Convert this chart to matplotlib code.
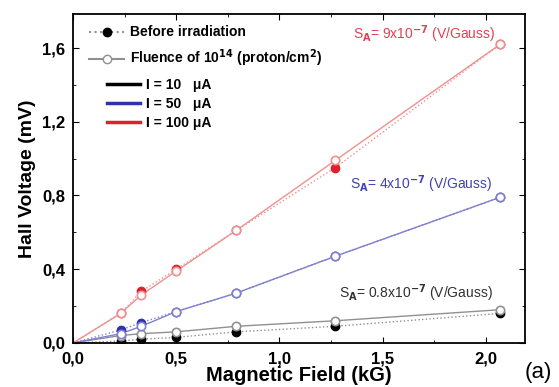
import numpy as np
import matplotlib.pyplot as plt
from matplotlib.lines import Line2D
import matplotlib.ticker as ticker

field = [0.23, 0.33, 0.50, 0.79, 1.27, 2.07]

# fluence of 1e14 (open symbols)
after_10 = [0.04, 0.05, 0.06, 0.09, 0.12, 0.18]
after_50 = [0.05, 0.09, 0.17, 0.27, 0.47, 0.79]
after_100 = [0.16, 0.26, 0.39, 0.61, 0.99, 1.62]

# before irradiation (filled symbols)
before_10 = [0.01, 0.02, 0.03, 0.06, 0.09, 0.16]
before_50 = [0.07, 0.11, 0.17, 0.27, 0.47, 0.79]
before_100 = [0.16, 0.28, 0.40, 0.61, 0.95, 1.62]

plt.rcParams['font.family'] = ['Liberation Sans', 'DejaVu Sans']
plt.rcParams['font.weight'] = 'bold'

fig, ax1 = plt.subplots(1, 1, figsize=(5.59, 3.87), dpi=100)
fig.subplots_adjust(left=0.131, right=0.939, top=0.964, bottom=0.114)

x0 = np.concatenate([[0], field])
sets = [('black', '#909090', before_10, after_10),
        ('#3030b0', '#8080d0', before_50, after_50),
        ('#e02030', '#f09090', before_100, after_100)]

for col, lcol, bef, aft in sets:
    ax1.plot(x0, np.concatenate([[0], bef]), ls=':', color=lcol, lw=1.0, zorder=1)
    ax1.plot(x0, np.concatenate([[0], aft]), ls='-', color=lcol, lw=1.0, zorder=1)
    ax1.plot(field, bef, 'o', color=col, ms=6, zorder=3)
    ax1.plot(field, aft, 'o', mfc='white', mec=lcol, mew=1.2, ms=6, zorder=4)

ax1.set_xlim(0, 2.19)
ax1.set_ylim(0, 1.785)
ax1.xaxis.set_major_locator(ticker.MultipleLocator(0.5))
ax1.xaxis.set_minor_locator(ticker.MultipleLocator(0.25))
ax1.yaxis.set_major_locator(ticker.MultipleLocator(0.4))
ax1.yaxis.set_minor_locator(ticker.MultipleLocator(0.2))
fmt = ticker.FuncFormatter(lambda v, p: ('%.1f' % v).replace('.', ','))
ax1.xaxis.set_major_formatter(fmt)
ax1.yaxis.set_major_formatter(fmt)
ax1.tick_params(which='both', direction='in', top=True, right=True, labelsize=12)
ax1.tick_params(which='major', length=4, pad=6)
ax1.tick_params(which='minor', length=2.5)
for s in ax1.spines.values():
    s.set_linewidth(1.3)

ax1.set_xlabel('Magnetic Field (kG)', fontsize=14.5, fontweight='bold', labelpad=0)
ax1.set_ylabel('Hall Voltage (mV)', fontsize=14, fontweight='bold', labelpad=4)

h1 = [Line2D([], [], color='#909090', ls=':', marker='o', mfc='black', mec='black', ms=6),
      Line2D([], [], color='#909090', ls='-', marker='o', mfc='white', mec='#909090', ms=6)]
l1 = ['Before irradiation', r'Fluence of 10$^{\mathbf{14}}$ (proton/cm$^{\mathbf{2}}$)']
h2 = [Line2D([], [], color='black', lw=2.5),
      Line2D([], [], color='#3030b0', lw=2.5),
      Line2D([], [], color='#e02030', lw=2.5)]
l2 = ['I = 10   \u03bcA', 'I = 50   \u03bcA', 'I = 100 \u03bcA']

leg1 = ax1.legend(h1, l1, loc='upper left', bbox_to_anchor=(0.036, 0.965), frameon=False,
                  fontsize=10, handlelength=2.5, handletextpad=0.4, labelspacing=0.6,
                  borderpad=0, borderaxespad=0)
ax1.add_artist(leg1)
leg2 = ax1.legend(h2, l2, loc='upper left', bbox_to_anchor=(0.074, 0.805), frameon=False,
                  fontsize=10, handlelength=2.4, handletextpad=0.4, labelspacing=0.35,
                  borderpad=0, borderaxespad=0)
for lg in (leg1, leg2):
    for t in lg.get_texts():
        t.set_fontweight('bold')

ax1.text(1.357, 1.65, r'S$_\mathrm{A}$= 9x10$^{-7}$ (V/Gauss)', color='#e04050', fontsize=10,
         fontweight='normal')
ax1.text(1.34, 0.835, r'S$_\mathrm{A}$= 4x10$^{-7}$ (V/Gauss)', color='#4040b0', fontsize=10,
         fontweight='normal')
ax1.text(1.29, 0.245, r'S$_\mathrm{A}$= 0.8x10$^{-7}$ (V/Gauss)', color='#303030', fontsize=10,
         fontweight='normal')
fig.text(0.938, 0.022, '(a)', fontsize=16, fontweight='normal')

plt.savefig('out.png')
